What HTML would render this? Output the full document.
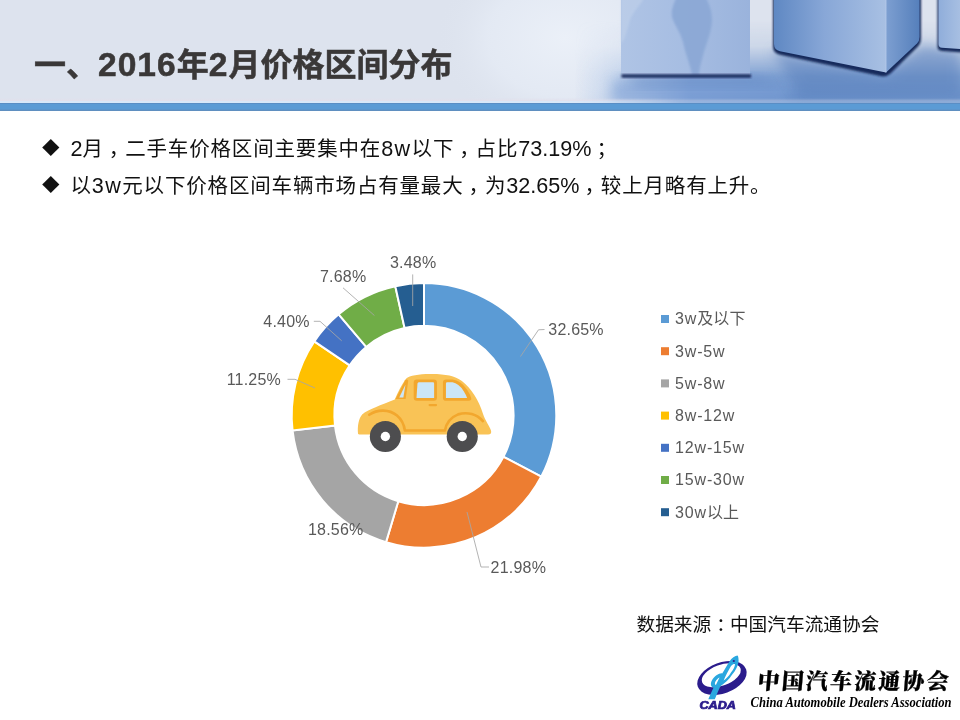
<!DOCTYPE html>
<html lang="zh-CN">
<head>
<meta charset="utf-8">
<title>一、2016年2月价格区间分布</title>
<style>
html,body{margin:0;padding:0;}
body{width:960px;height:720px;overflow:hidden;background:#fff;position:relative;font-family:"Liberation Sans","Noto Sans CJK SC",sans-serif;}
#hdr{position:absolute;left:0;top:0;width:960px;height:111px;background:#dde3ee;overflow:hidden;}
#hdr svg{position:absolute;left:0;top:0;}
#bar{position:absolute;left:0;top:102.8px;width:960px;height:7.9px;background:linear-gradient(to bottom,#5a8ec5 0,#5a8ec5 .9px,#5b9bd5 1.5px,#5b9bd5 6.3px,#5f8fc0 6.8px,#5f8fc0 7.9px);}
#barhl{position:absolute;left:0;top:97.5px;width:960px;height:5.4px;background:linear-gradient(to bottom,rgba(226,224,236,0) 0,rgba(226,224,236,.9) 2.5px,#d9e8f9 3px,#d9e8f9 5.4px);-webkit-mask-image:linear-gradient(to right,#000 0,#000 540px,rgba(0,0,0,.3) 680px,rgba(0,0,0,.3) 960px);mask-image:linear-gradient(to right,#000 0,#000 540px,rgba(0,0,0,.3) 680px,rgba(0,0,0,.3) 960px);}
#title{position:absolute;left:34px;top:43px;margin:0;font-size:32px;line-height:44px;font-weight:bold;color:#3a3838;white-space:nowrap;letter-spacing:0;-webkit-text-stroke:.5px #3a3838;}
.bl{position:absolute;left:42px;margin:0;font-size:20.5px;letter-spacing:.83px;line-height:30px;color:#111;white-space:nowrap;}
.bl .d{display:inline-block;width:28.5px;font-size:17.6px;position:relative;top:-2px;left:0;letter-spacing:0;}
.bl .n{font-size:21.6px;letter-spacing:0;}
.bl .p{position:relative;left:5px;}
#src .p{position:relative;left:5px;}
.bl .w{letter-spacing:1.4px;}
#title .n{font-size:33.6px;letter-spacing:1px;}
#chart{position:absolute;left:0;top:0;}
.lbl{font-size:16px;letter-spacing:.2px;fill:#595959;font-family:"Liberation Sans","Noto Sans CJK SC",sans-serif;}
#src{position:absolute;left:636.5px;top:611.2px;margin:0;font-size:18.7px;line-height:28px;color:#111;white-space:nowrap;}
#logo{position:absolute;left:690px;top:645px;width:270px;height:75px;}
</style>
</head>
<body>
<div id="hdr">
<svg width="960" height="111" viewBox="0 0 960 111">
<defs>
<radialGradient id="hl" cx="565" cy="38" r="130" gradientUnits="userSpaceOnUse" gradientTransform="translate(565 38) scale(1 .75) translate(-565 -38)"><stop offset="0" stop-color="#ebf0f8"/><stop offset="0.6" stop-color="#e5ebf5" stop-opacity=".8"/><stop offset="1" stop-color="#dde3ee" stop-opacity="0"/></radialGradient>
<linearGradient id="flx" x1="575" y1="0" x2="960" y2="0" gradientUnits="userSpaceOnUse"><stop offset="0" stop-color="#9fbbe3" stop-opacity="0"/><stop offset="0.12" stop-color="#9fbbe3" stop-opacity=".55"/><stop offset="0.3" stop-color="#7c9fd5"/><stop offset="0.6" stop-color="#6990c9"/><stop offset="1" stop-color="#6d93ca"/></linearGradient>
<linearGradient id="fly" x1="0" y1="30" x2="0" y2="103" gradientUnits="userSpaceOnUse"><stop offset="0" stop-color="#fff" stop-opacity="1"/><stop offset="0.3" stop-color="#fff" stop-opacity=".9"/><stop offset="0.62" stop-color="#fff" stop-opacity=".12"/><stop offset="1" stop-color="#fff" stop-opacity="0"/></linearGradient>
<mask id="flm"><rect x="440" y="0" width="520" height="111" fill="#fff"/><rect x="440" y="0" width="520" height="111" fill="url(#flyk)"/></mask>
<linearGradient id="flyk" x1="0" y1="20" x2="0" y2="95" gradientUnits="userSpaceOnUse"><stop offset="0" stop-color="#000" stop-opacity="1"/><stop offset="0.35" stop-color="#000" stop-opacity=".85"/><stop offset="0.75" stop-color="#000" stop-opacity=".15"/><stop offset="1" stop-color="#000" stop-opacity="0"/></linearGradient>
<linearGradient id="c1" x1="621" y1="0" x2="750" y2="0" gradientUnits="userSpaceOnUse"><stop offset="0" stop-color="#afc4e5"/><stop offset="0.5" stop-color="#a6bde2"/><stop offset="1" stop-color="#9ab3dc"/></linearGradient>
<linearGradient id="c2" x1="774" y1="0" x2="886" y2="0" gradientUnits="userSpaceOnUse"><stop offset="0" stop-color="#5f88c3"/><stop offset="0.45" stop-color="#88a7d7"/><stop offset="1" stop-color="#a8c0e3"/></linearGradient>
<linearGradient id="c2r" x1="886" y1="0" x2="920" y2="0" gradientUnits="userSpaceOnUse"><stop offset="0" stop-color="#7d9fd1"/><stop offset="1" stop-color="#557fbb"/></linearGradient>
<linearGradient id="c3" x1="938" y1="0" x2="960" y2="0" gradientUnits="userSpaceOnUse"><stop offset="0" stop-color="#8fadda"/><stop offset="1" stop-color="#a7bfe2"/></linearGradient>
<filter id="b1" x="-20%" y="-20%" width="140%" height="140%"><feGaussianBlur stdDeviation="0.8"/></filter>
<filter id="b3" x="-20%" y="-50%" width="140%" height="200%"><feGaussianBlur stdDeviation="3"/></filter>
<filter id="b6" x="-30%" y="-50%" width="160%" height="200%"><feGaussianBlur stdDeviation="6"/></filter>
</defs>
<rect x="0" y="0" width="960" height="111" fill="#dde3ee"/>
<rect x="420" y="0" width="300" height="111" fill="url(#hl)"/>
<g mask="url(#flm)"><rect x="540" y="0" width="420" height="111" fill="url(#flx)"/></g>
<rect x="612" y="80" width="175" height="24" fill="#799dd4" opacity=".55" filter="url(#b6)"/>
<path d="M618 76H754L790 86H640Z" fill="#5f86c2" opacity=".55" filter="url(#b6)"/>
<path d="M772 50L886 78L922 44L960 52V96H800Z" fill="#587fbc" opacity=".5" filter="url(#b6)"/>
<rect x="621" y="-2" width="129" height="77.5" fill="url(#c1)"/>
<path d="M676 -2C673 6 670 12 673 20C676 27 680 32 683 42C685 52 689 62 691 70L692 75.5H699C699 68 702 60 704 52C707 42 712 30 712 20C712 10 709 4 706 -2Z" fill="#8ba8d5" opacity=".9" filter="url(#b1)"/>
<path d="M621 -2H644C640 6 634 10 630 20C627 30 625 40 621 44Z" fill="#c3d3eb" opacity=".55" filter="url(#b1)"/>
<rect x="621.5" y="74.3" width="129.5" height="3.4" fill="#172c5c" filter="url(#b1)"/>
<path d="M773 -2V47Q773 53.5 781 55L880 76Q886 77.5 890.5 73.5L918 46.5Q921 43.5 921 38V-2Z" fill="#172c5c" filter="url(#b1)"/>
<path d="M774 -2V44Q774 50 780 51.2L886 72.5V-2Z" fill="url(#c2)"/>
<path d="M886 -2V72.5L917 43.5Q919.5 41 919.5 37V-2Z" fill="url(#c2r)"/>
<path d="M886 -2V72.5" stroke="#b5c9e8" stroke-width="1.2" opacity=".7" fill="none"/>
<path d="M937.5 -2V47Q937.5 50.5 942 51L962 52.5V-2Z" fill="#172c5c" filter="url(#b1)"/>
<path d="M938.5 -2V44Q938.5 47.5 942 47.8L962 49V-2Z" fill="url(#c3)"/>
</svg>
</div>
<div id="barhl"></div>
<div id="bar"></div>
<h1 id="title">一、<span class="n">2016</span>年<span class="n">2</span>月价格区间分布</h1>
<p class="bl" style="top:133.5px"><span class="d">◆</span><span class="n">2</span>月<span class="p">，</span>二手车价格区间主要集中在<span class="n w">8w</span>以下<span class="p">，</span>占比<span class="n">73.19%</span><span class="p">；</span></p>
<p class="bl" style="top:171px"><span class="d">◆</span>以<span class="n w">3w</span>元以下价格区间车辆市场占有量最大<span class="p">，</span>为<span class="n">32.65%</span><span class="p">，</span>较上月略有上升。</p>
<svg id="chart" width="960" height="720" viewBox="0 0 960 720">
<g id="ring" stroke="#fff" stroke-width="2" stroke-linejoin="miter">
<path d="M424.00 283.10A132.3 132.3 0 0 1 541.31 476.57L503.45 456.83A89.6 89.6 0 0 0 424.00 325.80Z" fill="#5b9bd5"/>
<path d="M541.31 476.57A132.3 132.3 0 0 1 386.05 542.14L398.30 501.24A89.6 89.6 0 0 0 503.45 456.83Z" fill="#ed7d31"/>
<path d="M386.05 542.14A132.3 132.3 0 0 1 292.55 430.41L334.98 425.57A89.6 89.6 0 0 0 398.30 501.24Z" fill="#a5a5a5"/>
<path d="M292.55 430.41A132.3 132.3 0 0 1 314.30 341.45L349.70 365.32A89.6 89.6 0 0 0 334.98 425.57Z" fill="#ffc000"/>
<path d="M314.30 341.45A132.3 132.3 0 0 1 338.65 314.31L366.20 346.94A89.6 89.6 0 0 0 349.70 365.32Z" fill="#4472c4"/>
<path d="M338.65 314.31A132.3 132.3 0 0 1 395.30 286.25L404.56 327.93A89.6 89.6 0 0 0 366.20 346.94Z" fill="#70ad47"/>
<path d="M395.30 286.25A132.3 132.3 0 0 1 424.00 283.10L424.00 325.80A89.6 89.6 0 0 0 404.56 327.93Z" fill="#255e91"/>
</g>
<g id="car" transform="translate(340 360) scale(.1875)">
<path d="M96 392C92 350 100 312 118 290C150 262 220 240 292 210C310 170 330 128 352 100C372 82 420 76 480 75C560 74 610 84 650 112C700 150 740 215 762 285C775 325 798 352 806 378C808 390 802 397 790 397H110C100 397 96 396 96 392Z" fill="#f9c356"/>
<path d="M296 208L348 108Q356 98 364 110L350 208Z" fill="#f2a72e"/>
<path d="M316 200L349 132L338 200Z" fill="#cbe6f7"/>
<rect x="393" y="104" width="124" height="113" rx="16" fill="#f2a72e"/>
<path d="M420 119H496Q502 119 502 126V203H408L413 127Q414 119 420 119Z" fill="#cbe6f7"/>
<path d="M549 120Q549 104 566 104H600Q644 108 678 158Q696 186 700 204Q702 217 686 217H566Q549 217 549 202Z" fill="#f2a72e"/>
<path d="M565 126Q565 119 572 119H600Q632 124 660 166Q674 188 678 203H565Z" fill="#cbe6f7"/>
<rect x="472" y="234" width="46" height="12" rx="6" fill="#f2a72e"/>
<path d="M156 292C200 262 262 262 304 296C330 318 342 348 346 376H560C566 340 590 306 630 290C680 274 730 290 762 326" fill="none" stroke="#f2a72e" stroke-width="14" stroke-linecap="round" stroke-linejoin="round"/>
<circle cx="242" cy="408" r="83" fill="#4d4d4f"/>
<circle cx="242" cy="408" r="25" fill="#fff"/>
<circle cx="652" cy="408" r="83" fill="#4d4d4f"/>
<circle cx="652" cy="408" r="25" fill="#fff"/>
</g>
<g fill="none" stroke="#a6a6a6" stroke-width="1" opacity=".85">
<polyline points="544.5,329.5 538.5,329.8 520.5,356.5"/>
<polyline points="489,567 481,567 467,512"/>
<polyline points="287.5,379.3 295,379.3 315,388"/>
<polyline points="313.8,321.3 320,321.3 341.7,340.8"/>
<polyline points="343,287.8 374.4,315.5"/>
<polyline points="412.7,274.4 412.7,306"/>
</g>
<g class="lbl">
<text x="548.3" y="335">32.65%</text>
<text x="490.6" y="572.7">21.98%</text>
<text x="308" y="534.8">18.56%</text>
<text x="226.7" y="384.7">11.25%</text>
<text x="263.3" y="326.7">4.40%</text>
<text x="320" y="281.8">7.68%</text>
<text x="390" y="267.8">3.48%</text>
</g>
<g class="lbl">
<rect x="661" y="315.0" width="8" height="8" fill="#5b9bd5"/><text x="675" y="324.3"><tspan letter-spacing=".85">3w</tspan>及以下</text>
<rect x="661" y="347.2" width="8" height="8" fill="#ed7d31"/><text x="675" y="356.5"><tspan letter-spacing=".85">3w-5w</tspan></text>
<rect x="661" y="379.4" width="8" height="8" fill="#a5a5a5"/><text x="675" y="388.7"><tspan letter-spacing=".85">5w-8w</tspan></text>
<rect x="661" y="411.6" width="8" height="8" fill="#ffc000"/><text x="675" y="420.9"><tspan letter-spacing=".85">8w-12w</tspan></text>
<rect x="661" y="443.8" width="8" height="8" fill="#4472c4"/><text x="675" y="453.1"><tspan letter-spacing=".85">12w-15w</tspan></text>
<rect x="661" y="476.0" width="8" height="8" fill="#70ad47"/><text x="675" y="485.3"><tspan letter-spacing=".85">15w-30w</tspan></text>
<rect x="661" y="508.2" width="8" height="8" fill="#255e91"/><text x="675" y="517.5"><tspan letter-spacing=".85">30w</tspan>以上</text>
</g>
</svg>
<p id="src">数据来源<span class="p">：</span>中国汽车流通协会</p>
<div id="logo">
<svg width="270" height="75" viewBox="690 645 270 75">
<g transform="rotate(-20 721.9 677.8)">
<path fill-rule="evenodd" fill="#2b1c8c" d="M696.2 678a25.7 15.4 0 1 0 51.4 0a25.7 15.4 0 1 0 -51.4 0ZM701.8 675.2a20.4 10.4 0 1 1 40.8 0a20.4 10.4 0 1 1 -40.8 0Z"/>
</g>
<g fill="#2aa7df">
<path d="M737.6 655.6C735.2 655.9 731.5 658.3 729.6 661.2C727.4 664.6 724.6 669.6 722.2 673.4C719.2 672.9 714.4 676.2 712 680.2C710 683.6 710.8 687 713.6 687.4C711.9 691 710 695.4 708.3 699.2L714.8 699.2C716.6 694.8 718.6 690.2 720.4 686.2C724.8 683.4 729.4 679 732 674.8C735.4 670.8 738.2 665.6 738.6 661.2C738.6 658.8 738.4 656.6 737.6 655.6ZM719.6 677.6C718.4 680 717 682.8 715.9 685C714.6 684.6 714.6 682.8 715.6 681.2C716.6 679.6 718.2 678.2 719.6 677.6ZM731 666C732.4 664.2 734.2 663.2 735 663.8C735.2 666.4 733.4 669.8 731 672.4C729 675.6 726.4 678.8 723.6 680.6C725.8 675.6 728.4 670.4 731 666Z" fill-rule="evenodd"/>
</g>
<circle cx="733.8" cy="661" r="1.1" fill="#2b1c8c"/>
<text x="699.5" y="709.2" font-family="'Liberation Sans',sans-serif" font-weight="bold" font-style="italic" font-size="10.2" fill="#2b1c8c" stroke="#2b1c8c" stroke-width=".7" textLength="36.5" lengthAdjust="spacingAndGlyphs">CADA</text>
<text x="757" y="689" transform="translate(757 689) skewX(-5) translate(-757 -689)" font-family="'Liberation Serif','Noto Serif CJK SC',serif" font-weight="900" font-size="22" fill="#000" stroke="#000" stroke-width=".3" textLength="191" lengthAdjust="spacing">中国汽车流通协会</text>
<text x="750.5" y="707.3" font-family="'Liberation Serif',serif" font-style="italic" font-weight="bold" font-size="13.6" fill="#000" textLength="201" lengthAdjust="spacingAndGlyphs">China Automobile Dealers Association</text>
</svg>
</div>
</body>
</html>
